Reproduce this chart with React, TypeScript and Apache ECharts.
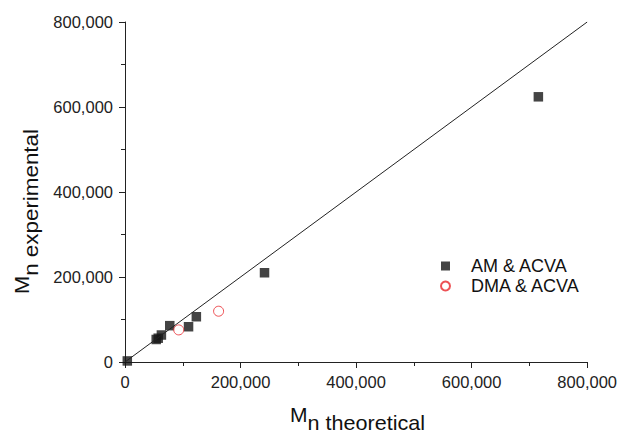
import React, { useEffect, useRef } from "react";
import * as echarts from "echarts";

const amAcva: [number, number][] = [
  [4000, 2500],
  [54000, 53000],
  [57500, 56000],
  [63000, 63500],
  [77500, 85500],
  [110000, 83000],
  [123500, 106500],
  [241500, 210000],
  [715500, 624000],
];
const dmaAcva: [number, number][] = [
  [93000, 75500],
  [162000, 119500],
];
const fitLine: [number, number][] = [
  [0, 0],
  [800000, 800000],
];
const seriesNames = ["AM & ACVA", "DMA & ACVA"];
const axisMax = 800000;
const axisInterval = 200000;

const fmt = (v: number) => v.toLocaleString("en-US");

export default function App() {
  const ref = useRef<HTMLDivElement>(null);
  useEffect(() => {
    if (!ref.current) return;
    document.body.style.margin = "0";
    document.body.style.overflow = "hidden";
    document.documentElement.style.overflow = "hidden";
    const chart = echarts.init(ref.current, null, { renderer: "svg" });
    const font = "Liberation Sans, Arial, sans-serif";
    const axisCommon = {
      type: "value" as const,
      min: 0,
      max: axisMax,
      interval: axisInterval,
      splitLine: { show: false },
      axisLine: { show: true, onZero: false, lineStyle: { color: "#222", width: 1 } },
      axisTick: { show: true, inside: false, length: 6, lineStyle: { color: "#222" } },
      minorTick: { show: true, splitNumber: 2, length: 4, lineStyle: { color: "#222" } },
      axisLabel: {
        color: "#222",
        fontSize: 16.5,
        fontFamily: font,
        formatter: (v: number) => fmt(v),
      },
    };
    chart.setOption({
      animation: false,
      backgroundColor: "#fff",
      grid: { left: 125, right: 31, top: 22, bottom: 72 },
      xAxis: { ...axisCommon, axisLabel: { ...axisCommon.axisLabel, margin: 11 } },
      yAxis: { ...axisCommon, axisLabel: { ...axisCommon.axisLabel, margin: 12 } },
      legend: {
        orient: "vertical",
        left: 440,
        top: 257,
        padding: 0,
        itemWidth: 9,
        itemHeight: 9,
        itemGap: 2,
        textStyle: { fontSize: 18, fontFamily: font, color: "#111", padding: [0, 0, 0, 16] },
        data: [
          { name: seriesNames[0], icon: "rect" },
          { name: seriesNames[1], icon: "circle" },
        ],
      },
      series: [
        {
          name: "fit",
          type: "line",
          data: fitLine,
          showSymbol: false,
          lineStyle: { color: "#222", width: 1 },
          silent: true,
        },
        {
          name: seriesNames[0],
          type: "scatter",
          data: amAcva,
          symbol: "rect",
          symbolSize: 9.5,
          itemStyle: { color: "#151515" },
        },
        {
          name: seriesNames[1],
          type: "scatter",
          data: dmaAcva,
          symbol: "circle",
          symbolSize: 10,
          itemStyle: { color: "#fff", borderColor: "#e8262a", borderWidth: 1 },
        },
      ],
      graphic: [
        {
          type: "text",
          x: 357.5,
          y: 405.5,
          scaleX: 1.08,
          style: {
            text: "{a|M}{b|n theoretical}",
            align: "center",
            verticalAlign: "top",
            fill: "#111",
            rich: {
              a: { fontSize: 19.5, lineHeight: 19.5, verticalAlign: "top", fontFamily: font, fill: "#111" },
              b: { fontSize: 20, lineHeight: 19.5, verticalAlign: "top", fontFamily: font, fill: "#111", padding: [7, 0, 0, 0] },
            },
          },
        },
        {
          type: "text",
          x: 11.5,
          y: 211.5,
          rotation: Math.PI / 2,
          scaleX: 1.12,
          style: {
            text: "{a|M}{b|n experimental}",
            align: "center",
            verticalAlign: "top",
            fill: "#111",
            rich: {
              a: { fontSize: 19.5, lineHeight: 19.5, verticalAlign: "top", fontFamily: font, fill: "#111" },
              b: { fontSize: 20, lineHeight: 20, verticalAlign: "top", fontFamily: font, fill: "#111", padding: [9, 0, 0, 0] },
            },
          },
        },
      ],
    });
    return () => chart.dispose();
  }, []);
  return <div ref={ref} style={{ width: 620, height: 434 }} />;
}
